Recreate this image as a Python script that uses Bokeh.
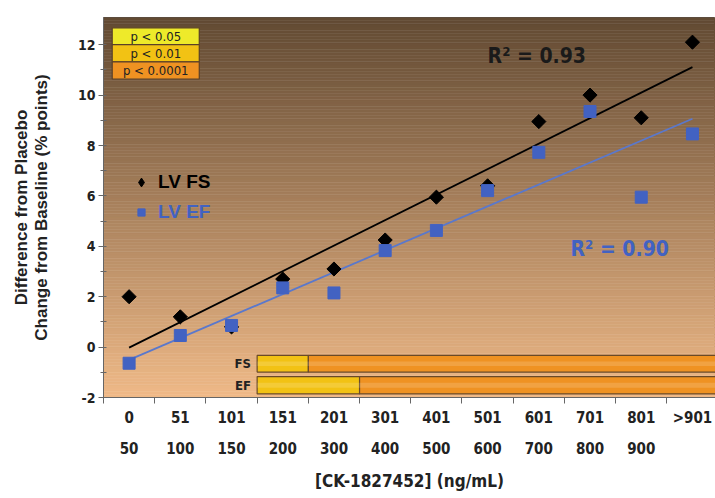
import numpy as np
from bokeh.plotting import figure
from bokeh.models import (Range1d, FixedTicker, LinearAxis, Legend, LegendItem,
                          ColumnDataSource)
from bokeh.core.properties import value
from bokeh.embed import file_html
from bokeh.resources import INLINE

# ---------------- data ----------------
bins_low = ["0", "51", "101", "151", "201", "301", "401", "501", "601", "701", "801", ">901"]
bins_high = ["50", "100", "150", "200", "300", "400", "500", "600", "700", "800", "900", ""]
lv_fs = [2.0, 1.2, 0.8, 2.7, 3.1, 4.25, 5.95, 6.4, 8.95, 10.0, 9.1, 12.1]
lv_ef = [-0.64, 0.46, 0.86, 2.35, 2.15, 3.83, 4.63, 6.21, 7.73, 9.35, 5.95, 8.46]
fs_sig = [None, None, None, "p < 0.01", "p < 0.0001", "p < 0.0001", "p < 0.0001",
          "p < 0.0001", "p < 0.0001", "p < 0.0001", "p < 0.0001", "p < 0.0001"]
ef_sig = [None, None, None, "p < 0.01", "p < 0.01", "p < 0.0001", "p < 0.0001",
          "p < 0.0001", "p < 0.0001", "p < 0.0001", "p < 0.0001", "p < 0.0001"]
sig_levels = ["p < 0.05", "p < 0.01", "p < 0.0001"]
y_ticks = [-2, 0, 2, 4, 6, 8, 10, 12]
r2_fs = "R² = 0.93"
r2_ef = "R² = 0.90"

# ---------------- styles ----------------
SIG_COLORS = {"p < 0.05": "#eeea2a", "p < 0.01": "#f2c214", "p < 0.0001": "#ef9222"}
BLUE = "#4262c2"
FONT = "DejaVu Sans Condensed, Liberation Sans"
FONT_W = "Liberation Sans"

xs = np.arange(len(lv_fs))
XR = (-0.5, 11.45)
YR = (-2.0, 13.08)

p = figure(width=715, height=498, output_backend="svg", toolbar_location=None,
           x_range=Range1d(*XR), y_range=Range1d(*YR))
p.min_border_left = 103
p.min_border_right = 0
p.min_border_top = 17
p.min_border_bottom = 101
p.grid.visible = False
p.outline_line_color = "#5a5048"
p.background_fill_color = "white"
p.border_fill_color = "white"

# gradient background
n = 120
edges = np.linspace(YR[0], YR[1], n + 1)
c_bot = np.array([0xf0, 0xba, 0x88])
c_top = np.array([0x62, 0x4a, 0x33])
cols = []
for i in range(n):
    t = (i + 0.5) / n
    c = (c_bot * (1 - t) + c_top * t).astype(int)
    cols.append("#%02x%02x%02x" % tuple(c))
p.quad(left=XR[0], right=XR[1] + 1, bottom=edges[:-1], top=edges[1:],
       fill_color=cols, line_color=cols, line_width=0.5)

# significance bars
def runs(sig):
    out = []
    start = None
    for i in range(len(sig) + 1):
        s = sig[i] if i < len(sig) else None
        if start is not None and (i == len(sig) or s != sig[start]):
            out.append((start - 0.5, i - 0.5 if i < len(sig) else i + 0.5, sig[start]))
            start = None
        if s is not None and start is None:
            start = i
    return out

for sig, (b, t) in ((fs_sig, (-0.99, -0.33)), (ef_sig, (-1.86, -1.17))):
    rr = runs(sig)
    src = ColumnDataSource(dict(l=[r[0] for r in rr], r=[r[1] for r in rr],
                                c=[SIG_COLORS[r[2]] for r in rr]))
    p.quad(left="l", right="r", bottom=b, top=t, fill_color="c", source=src,
           line_color="#6a4a28", line_width=1.2)
    mid = (b + t) / 2
    h = (t - b) * 0.28
    p.quad(left="l", right="r", bottom=mid - h / 2, top=mid + h / 2, fill_color="white",
           fill_alpha=0.15, line_color=None, source=src)

p.text(x=[2.38, 2.38], y=[-0.66, -1.52], text=["FS", "EF"], text_align="right",
       text_baseline="middle", text_font_size="13px", text_font_style="bold",
       text_color="#222222", text_font=value(FONT))

# significance legend (top-left)
lx0, lx1 = -0.33, 1.37
tops = [12.67, 12.0, 11.32]
bots = [12.0, 11.32, 10.64]
p.quad(left=lx0, right=lx1, bottom=bots, top=tops,
       fill_color=[SIG_COLORS[s] for s in sig_levels], line_color="#5a4028", line_width=1.2)
p.text(x=[(lx0 + lx1) / 2] * 3, y=[(a + b) / 2 for a, b in zip(tops, bots)], text=sig_levels,
       text_align="center", text_baseline="middle", text_font_size="13px",
       text_color="#222222", text_font=value(FONT))

# fit lines
fs_fit = np.polyfit(xs, lv_fs, 1)
ef_fit = np.polyfit(xs, lv_ef, 1)
xe = np.array([xs[0], xs[-1]])
p.line(xe, np.polyval(fs_fit, xe), line_color="black", line_width=1.8)
p.line(xe, np.polyval(ef_fit, xe), line_color="#5a78cc", line_width=1.8)

p.scatter(xs, lv_fs, marker="square", angle=np.pi / 4, size=10, color="black")
r_ef = p.scatter(xs, lv_ef, marker="square", size=12, color=BLUE)
# legend-only glyph for the diamond series
r_fs_leg = p.scatter([np.nan], [np.nan], marker="diamond", size=15, color="black")

p.text(x=[7.0], y=[11.55], text=[r2_fs], text_baseline="middle", text_font_size="21px",
       text_font_style="bold", text_color="#1a1a1a", text_font=value(FONT))
p.text(x=[8.62], y=[3.9], text=[r2_ef], text_baseline="middle", text_font_size="21px",
       text_font_style="bold", text_color=BLUE, text_font=value(FONT))

# series legends
for r, lab, col, loc, gw in ((r_fs_leg, "LV FS", "black", (27, 203), 22),
                             (r_ef, "LV EF", BLUE, (29, 173), 18)):
    lg = Legend(items=[LegendItem(label=lab, renderers=[r])], location=loc,
                background_fill_alpha=0, border_line_color=None, padding=0, margin=0,
                label_text_font_size="19px", label_text_font_style="bold",
                label_text_color=col, label_text_font=FONT_W, glyph_width=gw,
                glyph_height=24, label_height=24, label_standoff=8 - (gw - 18) // 2)
    p.add_layout(lg, "center")

# axes
ya = p.yaxis[0]
ya.ticker = FixedTicker(ticks=y_ticks, minor_ticks=list(range(-1, 13, 2)))
ya.major_label_overrides = {t: str(t) for t in y_ticks}
ya.major_tick_in = 3
ya.major_tick_out = 5
ya.minor_tick_in = 3
ya.minor_tick_out = 3
ya.axis_line_color = "#666666"
ya.major_tick_line_color = "#666666"
ya.minor_tick_line_color = "#666666"
ya.major_label_text_font = FONT
ya.major_label_text_font_size = "14px"
ya.major_label_text_font_style = "bold"
ya.major_label_text_color = "#222222"
ya.major_label_standoff = 3
ya.axis_label = "Change from Baseline (% points)"
ya.axis_label_text_font = FONT_W
ya.axis_label_text_font_size = "17px"
ya.axis_label_text_font_style = "bold"
ya.axis_label_text_color = "#222222"
ya.axis_label_standoff = 24

ya2 = LinearAxis(ticker=FixedTicker(ticks=[]), axis_line_color=None,
                 major_tick_line_color=None, minor_tick_line_color=None,
                 axis_label="Difference from Placebo", axis_label_text_font=FONT_W,
                 axis_label_text_font_size="17px", axis_label_text_font_style="bold",
                 axis_label_text_color="#222222", axis_label_standoff=-2)
p.add_layout(ya2, "left")

xa = p.xaxis[0]
xa.ticker = FixedTicker(ticks=list(xs), minor_ticks=[i - 0.5 for i in range(13)])
xa.major_label_overrides = {int(i): s for i, s in zip(xs, bins_low)}
xa.major_tick_line_color = None
xa.major_tick_in = 0
xa.major_tick_out = 0
xa.minor_tick_in = 0
xa.minor_tick_out = 6
xa.minor_tick_line_color = "#666666"
xa.axis_line_color = "#666666"
xa.major_label_text_font = FONT
xa.major_label_text_font_size = "15px"
xa.major_label_text_font_style = "bold"
xa.major_label_text_color = "#222222"
xa.major_label_standoff = 5

xa2 = LinearAxis(ticker=FixedTicker(ticks=list(xs)), axis_line_color=None,
                 major_tick_line_color=None, minor_tick_line_color=None,
                 major_tick_in=0, major_tick_out=0, major_label_standoff=12,
                 major_label_overrides={int(i): s for i, s in zip(xs, bins_high)},
                 major_label_text_font=FONT, major_label_text_font_size="15px",
                 major_label_text_font_style="bold", major_label_text_color="#222222",
                 axis_label="[CK-1827452] (ng/mL)", axis_label_text_font=FONT,
                 axis_label_text_font_size="17px", axis_label_text_font_style="bold",
                 axis_label_text_color="#222222", axis_label_standoff=14)
p.add_layout(xa2, "below")

open("out.html", "w").write(file_html(p, INLINE))
